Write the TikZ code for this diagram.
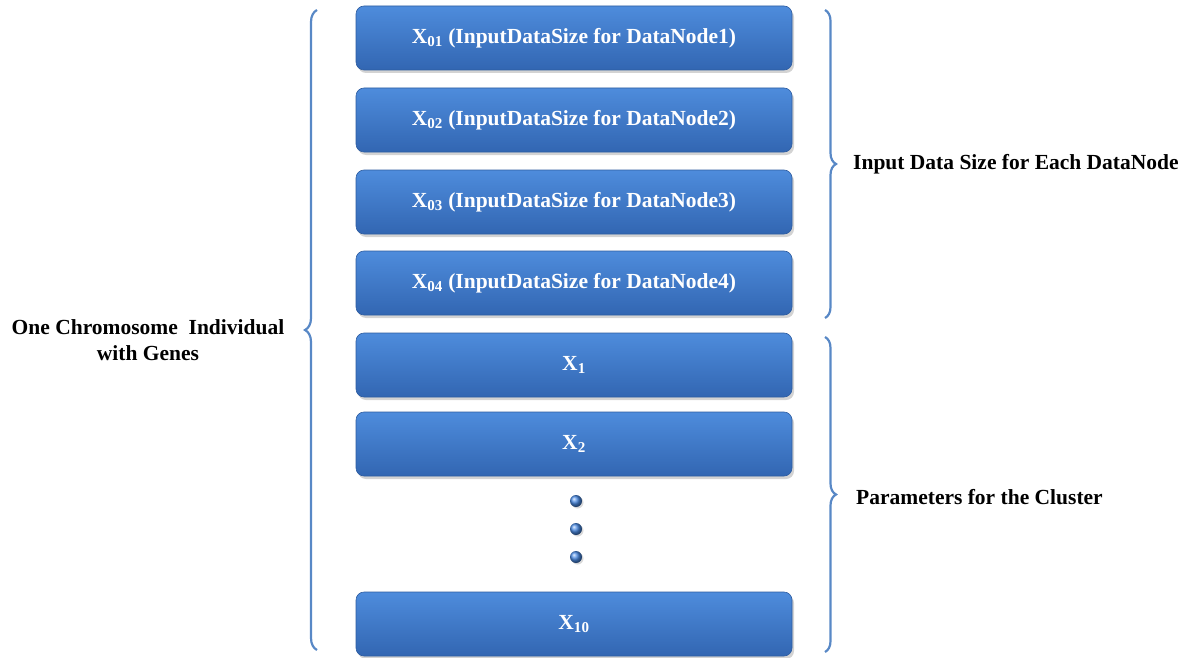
\documentclass[tikz,border=0pt]{standalone}
\usepackage{fontspec}
\setmainfont{Liberation Serif}
\usetikzlibrary{shadows,decorations.pathreplacing}
\definecolor{boxtop}{RGB}{78,140,220}
\definecolor{boxbot}{RGB}{50,102,178}
\definecolor{boxedge}{RGB}{45,92,160}
\definecolor{bracecol}{RGB}{88,136,198}
\definecolor{dotcol}{RGB}{75,140,230}
\begin{document}
\begin{tikzpicture}[x=1pt,y=-1pt,
  gene/.style={rounded corners=8pt, minimum width=436pt, minimum height=64pt,
    top color=boxtop, bottom color=boxbot, draw=boxedge, line width=0.6pt,
    drop shadow={shadow xshift=2pt, shadow yshift=-3pt, opacity=0.35},
    text=white, font=\bfseries\fontsize{21.5}{26}\selectfont, inner sep=0pt},
  lbl/.style={font=\bfseries\fontsize{21.5}{26}\selectfont, text=black, inner sep=0pt},
  bracestyle/.style={draw=bracecol, line width=2.2pt},
  dotball/.style={circle, minimum size=12pt, inner sep=0pt, ball color=dotcol, draw=none,
    drop shadow={shadow xshift=1.5pt, shadow yshift=-1.5pt, opacity=0.3}}
]
\useasboundingbox (0,0) rectangle (1196,658);

\node[gene] (g1) at (574,38) {X\textsubscript{01} (InputDataSize for DataNode1)};
\node[gene] (g2) at (574,120) {X\textsubscript{02} (InputDataSize for DataNode2)};
\node[gene] (g3) at (574,202) {X\textsubscript{03} (InputDataSize for DataNode3)};
\node[gene] (g4) at (574,283) {X\textsubscript{04} (InputDataSize for DataNode4)};
\node[gene] (p1) at (574,365) {X\textsubscript{1}};
\node[gene] (p2) at (574,444) {X\textsubscript{2}};
\node[gene] (p10) at (574,624) {X\textsubscript{10}};

\node[dotball] (d1) at (576,501) {};
\node[dotball] (d2) at (576,529) {};
\node[dotball] (d3) at (576,557) {};

\coordinate (lbT) at (317,10);
\coordinate (lbB) at (317,650);
\coordinate (r1T) at (825,10);
\coordinate (r1B) at (825,318);
\coordinate (r2T) at (825,337);
\coordinate (r2B) at (825,652);

\draw[bracestyle, decorate, decoration={brace, amplitude=12pt}] (lbB) -- (lbT);
\draw[bracestyle, decorate, decoration={brace, amplitude=11pt}] (r1T) -- (r1B);
\draw[bracestyle, decorate, decoration={brace, amplitude=11pt}] (r2T) -- (r2B);

\node[lbl, align=center] (chrom) at (148,340) {One Chromosome\ \ Individual\\with Genes};
\node[lbl, anchor=west] (inp) at (853,164) {Input Data Size for Each DataNode};
\node[lbl, anchor=west] (par) at (856,497) {Parameters for the Cluster};
\end{tikzpicture}
\end{document}
